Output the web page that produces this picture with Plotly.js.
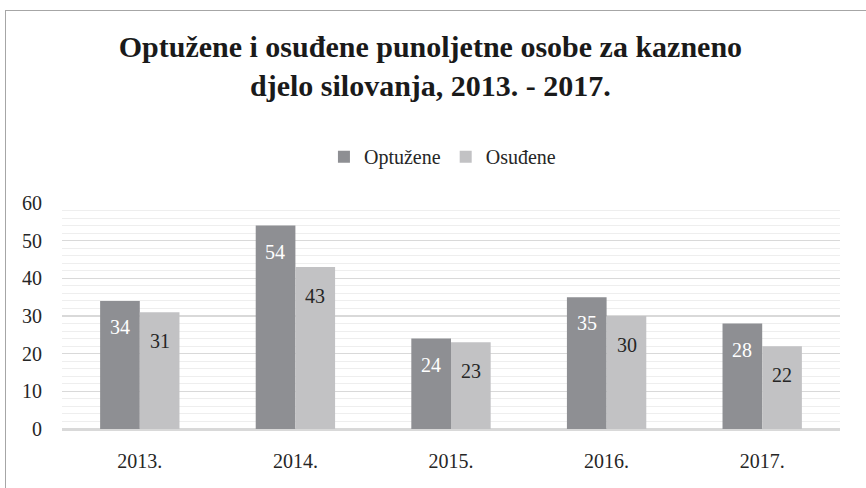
<!DOCTYPE html>
<html>
<head>
<meta charset="utf-8">
<script src="https://cdn.plot.ly/plotly-3.0.1.min.js"></script>
<style>
html,body{margin:0;padding:0;background:#fff;}
#wrap{position:relative;width:866px;height:488px;overflow:hidden;}
#chart{width:866px;height:488px;}
#frame{position:absolute;left:5px;top:10px;width:880px;height:500px;border:1px solid #a6a6a6;pointer-events:none;box-sizing:border-box;}
</style>
</head>
<body>
<div id="wrap"><div id="chart"></div><div id="frame"></div></div>
<script>
const years = ['2013.', '2014.', '2015.', '2016.', '2017.'];
const optuzene = [34, 54, 24, 35, 28];
const osudjene = [31, 43, 23, 30, 22];
const seriesNames = ['Optužene', 'Osuđene'];
const FONT = 'Liberation Serif';
const darkCol = '#8e8f93';
const lightCol = '#c2c2c4';
const idx = years.map((_, i) => i);

const traces = [
  {type:'bar', name:seriesNames[0], x:idx, y:optuzene, marker:{color:darkCol}, hoverinfo:'none'},
  {type:'bar', name:seriesNames[1], x:idx, y:osudjene, marker:{color:lightCol}, hoverinfo:'none'}
];

const annotations = [];
idx.forEach(i => {
  annotations.push({x:i, y:optuzene[i], xref:'x', yref:'y', xshift:-20, yshift:-26, showarrow:false,
    text:String(optuzene[i]), font:{family:FONT, size:20, color:'#ffffff'}, yanchor:'middle'});
  annotations.push({x:i, y:osudjene[i], xref:'x', yref:'y', xshift:20, yshift:-29, showarrow:false,
    text:String(osudjene[i]), font:{family:FONT, size:20, color:'#262626'}, yanchor:'middle'});
});

const layout = {
  width:866, height:488,
  margin:{l:62, r:26, t:203, b:59},
  paper_bgcolor:'#ffffff', plot_bgcolor:'#ffffff',
  font:{family:FONT, size:20, color:'#262626'},
  title:{text:'<b>Optužene i osuđene punoljetne osobe za kazneno<br>djelo silovanja, 2013. - 2017.</b>',
    font:{family:FONT, size:30, color:'#1a1a1a'}, x:0.497, xanchor:'center', y:0.883, yanchor:'top'},
  barmode:'group', bargap:0.49, bargroupgap:0,
  showlegend:true,
  legend:{orientation:'h', x:0.489, xanchor:'center', y:1.205, yanchor:'middle',
    font:{family:FONT, size:20, color:'#262626'}, itemwidth:30, tracegroupgap:0},
  xaxis:{range:[-0.5, 4.5], tickvals:idx, ticktext:years, showgrid:false, zeroline:false, showline:true, linecolor:'#d9d9d9', linewidth:1.5,
    ticks:'outside', ticklen:13, tickcolor:'rgba(0,0,0,0)', tickfont:{family:FONT, size:20, color:'#262626'}},
  yaxis:{range:[0,60], dtick:10, showgrid:true, gridcolor:'#d9d9d9', gridwidth:1.5,
    minor:{dtick:2, showgrid:true, gridcolor:'#eeeeee', gridwidth:1},
    zeroline:true, zerolinecolor:'#d9d9d9', zerolinewidth:1.5, showline:false,
    ticks:'outside', ticklen:15, tickcolor:'rgba(0,0,0,0)', tickfont:{family:FONT, size:20, color:'#262626'}},
  annotations:annotations
};

Plotly.newPlot('chart', traces, layout, {displayModeBar:false, staticPlot:true});
</script>
</body>
</html>
